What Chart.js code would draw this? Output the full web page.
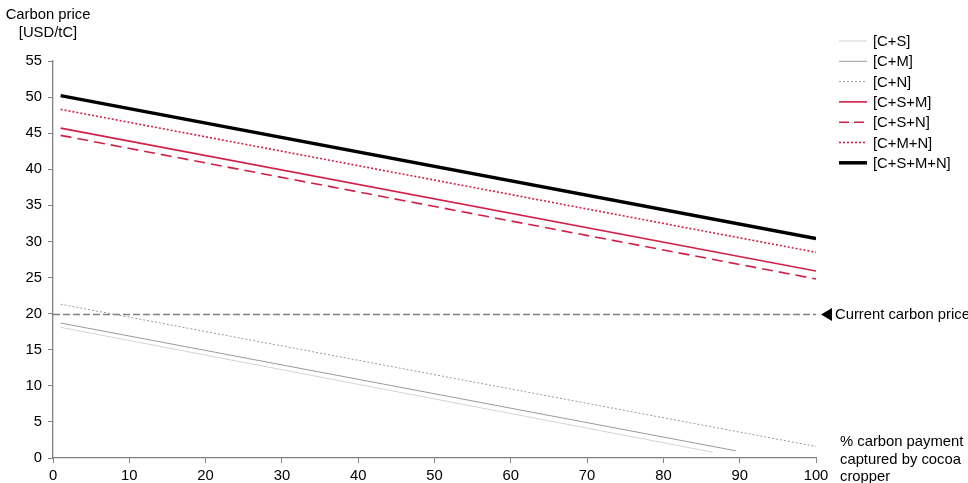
<!DOCTYPE html>
<html>
<head>
<meta charset="utf-8">
<script src="https://cdn.jsdelivr.net/npm/chart.js@4.4.1/dist/chart.umd.min.js"></script>
<style>
  html, body { margin: 0; padding: 0; background: #fff; }
  #wrap { width: 968px; height: 483px; position: relative; }
</style>
</head>
<body>
<div id="wrap"><canvas id="c" width="968" height="483"></canvas></div>
<script>
// Share of the carbon payment captured by the cocoa cropper (%), line endpoints
const shareCS = [1, 86.5];
const shareCM = [1, 89.5];
const shareFull = [1, 100];

// Break-even carbon price (USD/tC) for each scenario
const priceCS = [18.1, 0.8];
const priceCM = [18.7, 1.0];
const priceCN = [21.3, 1.6];
const priceCSM = [45.7, 25.9];
const priceCSN = [44.7, 24.8];
const priceCMN = [48.3, 28.5];
const priceCSMN = [50.2, 30.4];

const seriesNames = ['[C+S]', '[C+M]', '[C+N]', '[C+S+M]', '[C+S+N]', '[C+M+N]', '[C+S+M+N]'];

const currentCarbonPrice = 20;
const xTicks = [0, 10, 20, 30, 40, 50, 60, 70, 80, 90, 100];
const yTicks = [0, 5, 10, 15, 20, 25, 30, 35, 40, 45, 50, 55];

const RED = '#d21f47';
const FONT = '"Liberation Sans", Arial, sans-serif';
const FS = 14.8;

function pts(xs, ys) { return xs.map((x, i) => ({ x: x, y: ys[i] })); }

const styles = [
  { color: '#d4d4d4', width: 1, dash: [] },
  { color: '#9a9a9a', width: 1, dash: [] },
  { color: '#9a9a9a', width: 1, dash: [2, 2] },
  { color: RED, width: 1.6, dash: [] },
  { color: RED, width: 1.6, dash: [11, 6] },
  { color: RED, width: 1.6, dash: [2, 2] },
  { color: '#000000', width: 3.5, dash: [] }
];

const dataSets = [
  pts(shareCS, priceCS),
  pts(shareCM, priceCM),
  pts(shareFull, priceCN),
  pts(shareFull, priceCSM),
  pts(shareFull, priceCSN),
  pts(shareFull, priceCMN),
  pts(shareFull, priceCSMN)
];

const datasets = dataSets.map((d, i) => ({
  label: seriesNames[i],
  data: d,
  borderColor: styles[i].color,
  borderWidth: styles[i].width,
  borderDash: styles[i].dash,
  pointRadius: 0,
  fill: false,
  tension: 0
}));

// Reference line, side legend and axis titles
const decorations = {
  id: 'decorations',
  afterDatasetsDraw(chart) {
    const ctx = chart.ctx;
    const xs = chart.scales.x, ys = chart.scales.y;
    const yRef = Math.round(ys.getPixelForValue(currentCarbonPrice)) + 0.5;
    ctx.save();
    // current carbon price dashed line
    ctx.strokeStyle = '#808080';
    ctx.lineWidth = 1.3;
    ctx.setLineDash([7, 3]);
    ctx.beginPath();
    ctx.moveTo(xs.getPixelForValue(0), yRef);
    ctx.lineTo(xs.getPixelForValue(100), yRef);
    ctx.stroke();
    ctx.setLineDash([]);
    // arrow marker
    const ax = xs.getPixelForValue(100) + 5;
    ctx.fillStyle = '#000';
    ctx.beginPath();
    ctx.moveTo(ax, yRef);
    ctx.lineTo(ax + 11, yRef - 6.5);
    ctx.lineTo(ax + 11, yRef + 6.5);
    ctx.closePath();
    ctx.fill();
    ctx.font = FS + 'px ' + FONT;
    ctx.textBaseline = 'middle';
    ctx.textAlign = 'left';
    ctx.fillText('Current carbon price', ax + 14, yRef);

    // legend
    const lx0 = 839, lx1 = 867, tx = 873;
    seriesNames.forEach((name, i) => {
      const y = 41 + i * 20.3;
      ctx.strokeStyle = styles[i].color;
      ctx.lineWidth = styles[i].width;
      ctx.setLineDash(styles[i].dash.length ? (i === 4 ? [10, 5] : styles[i].dash) : []);
      ctx.beginPath();
      ctx.moveTo(lx0, y);
      ctx.lineTo(lx1, y);
      ctx.stroke();
      ctx.setLineDash([]);
      ctx.fillStyle = '#000';
      ctx.fillText(name, tx, y + 1);
    });

    // y axis title
    ctx.textAlign = 'center';
    ctx.fillText('Carbon price', 48, 15);
    ctx.fillText('[USD/tC]', 48, 33);

    // x axis title
    ctx.textAlign = 'left';
    ctx.fillText('% carbon payment', 840, 442);
    ctx.fillText('captured by cocoa', 840, 460);
    ctx.fillText('cropper', 840, 477);
    ctx.restore();
  }
};

new Chart(document.getElementById('c'), {
  type: 'line',
  data: { datasets: datasets },
  options: {
    responsive: false,
    animation: false,
    layout: { padding: { left: 0, top: 61, right: 152, bottom: 0 } },
    plugins: { legend: { display: false }, tooltip: { enabled: false } },
    scales: {
      x: {
        type: 'linear',
        min: 0, max: 100,
        afterBuildTicks(s) { s.ticks = xTicks.map(v => ({ value: v })); },
        afterFit(s) { s.height = 25; },
        grid: { drawOnChartArea: false, drawTicks: true, tickLength: 5, color: '#808080' },
        border: { display: true, color: '#808080', width: 1.3 },
        ticks: { color: '#000', font: { family: FONT, size: FS }, padding: 4, maxRotation: 0 }
      },
      y: {
        type: 'linear',
        min: 0, max: 55,
        afterBuildTicks(s) { s.ticks = yTicks.map(v => ({ value: v })); },
        afterFit(s) { s.width = 53; },
        grid: { drawOnChartArea: false, drawTicks: true, tickLength: 5, color: '#808080' },
        border: { display: true, color: '#808080', width: 1.3 },
        ticks: { color: '#000', font: { family: FONT, size: FS }, padding: 6 }
      }
    }
  },
  plugins: [decorations]
});
</script>
</body>
</html>
